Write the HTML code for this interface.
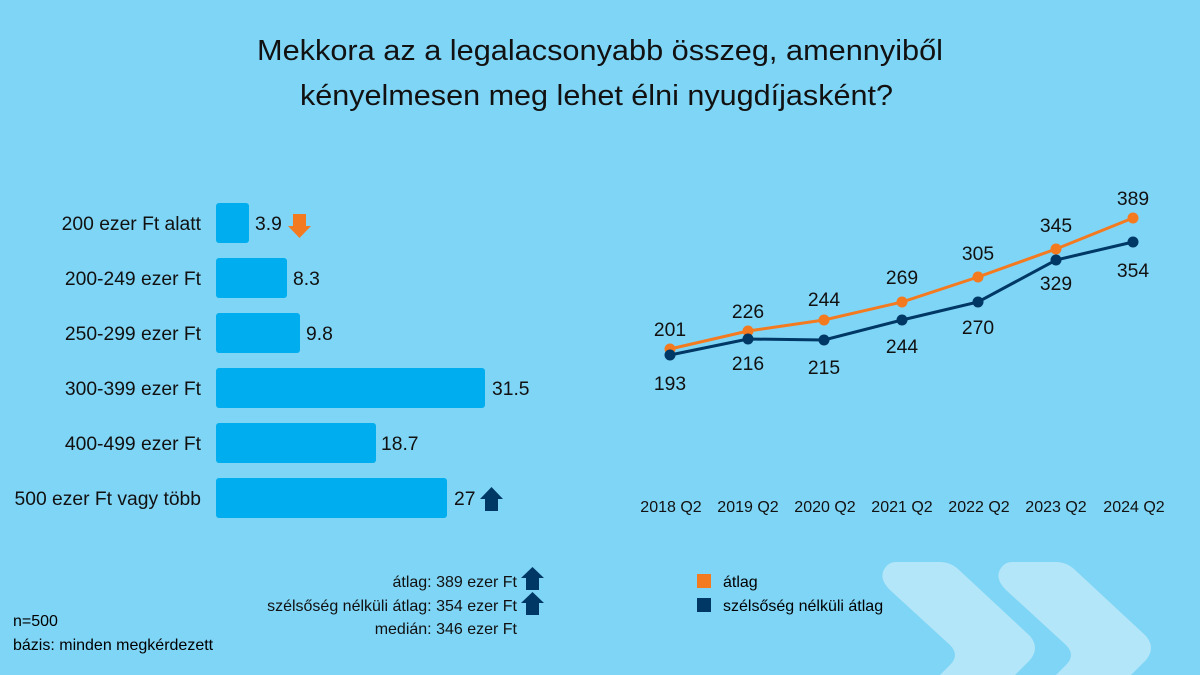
<!DOCTYPE html>
<html><head><meta charset="utf-8"><style>
body{margin:0;width:1200px;height:675px;background:#7fd5f6;overflow:hidden;font-family:"Liberation Sans",sans-serif;color:#111;position:relative}
</style></head><body>
<svg width="1200" height="675" style="position:absolute;left:0;top:0" font-family="Liberation Sans, sans-serif">
<g fill="#b3e6f8">
<path d="M896 562 L940 562 Q950 562 958 569 L1030 636 Q1040 648 1030 660 L1010 680 L935 680 L950 665 Q960 655 950 645 L890 590 Q878 578 885 568 Q889 562 896 562Z"/>
<path d="M1012 562 L1056 562 Q1066 562 1074 569 L1146 636 Q1156 648 1146 660 L1126 680 L1051 680 L1066 665 Q1076 655 1066 645 L1006 590 Q994 578 1001 568 Q1005 562 1012 562Z"/>
</g>
<text x="257" y="60" font-size="29" textLength="686" lengthAdjust="spacingAndGlyphs" fill="#111">Mekkora az a legalacsonyabb összeg, amennyiből</text>
<text x="300" y="105" font-size="29" textLength="593" lengthAdjust="spacingAndGlyphs" fill="#111">kényelmesen meg lehet élni nyugdíjasként?</text>
<g fill="#00aeef">
<rect x="216" y="203" width="33" height="40" rx="3"/>
<rect x="216" y="258" width="71" height="40" rx="3"/>
<rect x="216" y="313" width="84" height="40" rx="3"/>
<rect x="216" y="368" width="269" height="40" rx="3"/>
<rect x="216" y="423" width="160" height="40" rx="3"/>
<rect x="216" y="478" width="231" height="40" rx="3"/>
</g>
<g font-size="19.3" text-anchor="end" fill="#111">
<text x="201" y="230">200 ezer Ft alatt</text>
<text x="201" y="285">200-249 ezer Ft</text>
<text x="201" y="340">250-299 ezer Ft</text>
<text x="201" y="395">300-399 ezer Ft</text>
<text x="201" y="450">400-499 ezer Ft</text>
<text x="201" y="505">500 ezer Ft vagy több</text>
</g>
<g font-size="19.3" fill="#111">
<text x="255" y="230">3.9</text>
<text x="293" y="285">8.3</text>
<text x="306" y="340">9.8</text>
<text x="492" y="395">31.5</text>
<text x="381" y="450">18.7</text>
<text x="454" y="505">27</text>
</g>
<path d="M293 214 H306 V226 H311 L299.5 238 L288 226 H293Z" fill="#f47a20"/>
<path d="M485 511 V499 H480 L491.5 487 L503 499 H498 V511Z" fill="#003865"/>
<path d="M526 590 V578 H521 L532.5 567 L544 578 H539 V590Z" fill="#003865"/>
<path d="M526 615 V603 H521 L532.5 592 L544 603 H539 V615Z" fill="#003865"/>
<g font-size="16" text-anchor="end" fill="#111">
<text x="517" y="587">átlag: 389 ezer Ft</text>
<text x="517" y="611">szélsőség nélküli átlag: 354 ezer Ft</text>
<text x="517" y="634">medián: 346 ezer Ft</text>
</g>
<text x="13" y="626" font-size="16">n=500</text>
<text x="13" y="650" font-size="16">bázis: minden megkérdezett</text>
<polyline points="670,349 748,331 824,320 902,302 978,277 1056,249 1133,218" fill="none" stroke="#f47a20" stroke-width="3"/>
<polyline points="670,355 748,339 824,340 902,320 978,302 1056,260 1133,242" fill="none" stroke="#003865" stroke-width="3"/>
<g fill="#f47a20"><circle cx="670" cy="349" r="5.5"/><circle cx="748" cy="331" r="5.5"/><circle cx="824" cy="320" r="5.5"/><circle cx="902" cy="302" r="5.5"/><circle cx="978" cy="277" r="5.5"/><circle cx="1056" cy="249" r="5.5"/><circle cx="1133" cy="218" r="5.5"/></g>
<g fill="#003865"><circle cx="670" cy="355" r="5.5"/><circle cx="748" cy="339" r="5.5"/><circle cx="824" cy="340" r="5.5"/><circle cx="902" cy="320" r="5.5"/><circle cx="978" cy="302" r="5.5"/><circle cx="1056" cy="260" r="5.5"/><circle cx="1133" cy="242" r="5.5"/></g>
<g font-size="19.3" text-anchor="middle" fill="#111">
<text x="670" y="336">201</text><text x="748" y="318">226</text><text x="824" y="306">244</text><text x="902" y="284">269</text><text x="978" y="260">305</text><text x="1056" y="232">345</text><text x="1133" y="205">389</text>
<text x="670" y="390">193</text><text x="748" y="370">216</text><text x="824" y="374">215</text><text x="902" y="353">244</text><text x="978" y="334">270</text><text x="1056" y="290">329</text><text x="1133" y="277">354</text>
</g>
<g font-size="16" text-anchor="middle" fill="#111">
<text x="671" y="512">2018 Q2</text><text x="748" y="512">2019 Q2</text><text x="825" y="512">2020 Q2</text><text x="902" y="512">2021 Q2</text><text x="979" y="512">2022 Q2</text><text x="1056" y="512">2023 Q2</text><text x="1134" y="512">2024 Q2</text>
</g>
<rect x="697" y="574" width="14" height="14" fill="#f47a20"/>
<rect x="697" y="598" width="14" height="14" fill="#003865"/>
<text x="723" y="587" font-size="16">átlag</text>
<text x="723" y="611" font-size="16">szélsőség nélküli átlag</text>
</svg>
</body></html>
